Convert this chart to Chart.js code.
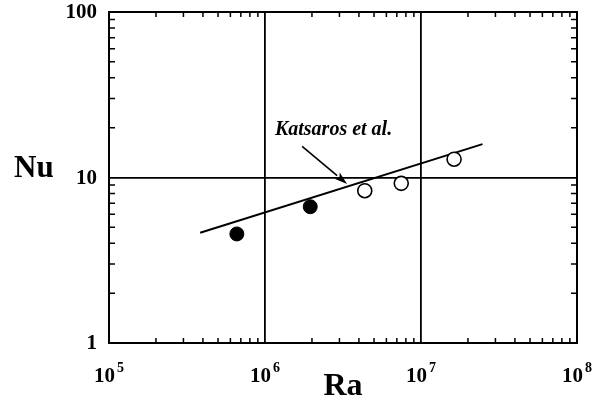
<!DOCTYPE html>
<html><head><meta charset="utf-8">
<script src="https://cdn.jsdelivr.net/npm/chart.js@4.4.1/dist/chart.umd.min.js"></script>
<style>html,body{margin:0;padding:0;background:#fff;}#wrap{width:606px;height:405px;}</style>
</head><body><div id="wrap"><canvas id="c" width="606" height="405"></canvas></div>
<script>
const filledRa = [6.6e5, 1.95e6];
const filledNu = [4.56, 6.66];
const openRa = [4.36e6, 7.47e6, 1.63e7];
const openNu = [8.32, 9.22, 12.9];
const fitRa = [3.84e5, 2.48e7];
const fitNu = [4.64, 15.9];
const arrowRa = [1.73e6, 3.36e6];
const arrowNu = [15.4, 9.14];
const labelText = 'Katsaros et al.';
const labelRa = 2.75e6;
const labelNu = 19.4;
const xDecades = [5, 6, 7, 8];
const yTicks = [1, 10, 100];
const xTitle = 'Ra';
const yTitle = 'Nu';

const SERIF = "'Liberation Serif','Times New Roman',serif";

const pts = (xs, ys) => xs.map((x, i) => ({x: x, y: ys[i]}));

const decorations = {
  id: 'decorations',
  afterDatasetsDraw(chart) {
    const ctx = chart.ctx, a = chart.chartArea;
    const xs = chart.scales.x, ys = chart.scales.y;
    ctx.save();
    // minor ticks
    ctx.strokeStyle = '#000'; ctx.lineWidth = 1.5;
    ctx.beginPath();
    for (let d = 5; d < 8; d++) for (let m = 2; m <= 9; m++) {
      const px = xs.getPixelForValue(m * Math.pow(10, d));
      ctx.moveTo(px, a.bottom); ctx.lineTo(px, a.bottom - 5);
      ctx.moveTo(px, a.top); ctx.lineTo(px, a.top + 5);
    }
    for (let d = 0; d < 2; d++) for (let m = 2; m <= 9; m++) {
      const py = ys.getPixelForValue(m * Math.pow(10, d));
      ctx.moveTo(a.left, py); ctx.lineTo(a.left + 6, py);
      ctx.moveTo(a.right, py); ctx.lineTo(a.right - 6, py);
    }
    ctx.stroke();
    // frame
    ctx.lineWidth = 2;
    ctx.strokeRect(a.left, a.top, a.right - a.left, a.bottom - a.top);
    // arrow
    const x1 = xs.getPixelForValue(arrowRa[0]), y1 = ys.getPixelForValue(arrowNu[0]);
    const x2 = xs.getPixelForValue(arrowRa[1]), y2 = ys.getPixelForValue(arrowNu[1]);
    const ang = Math.atan2(y2 - y1, x2 - x1);
    const hl = 13, hw = 4;
    const bx = x2 - hl * Math.cos(ang), by = y2 - hl * Math.sin(ang);
    ctx.lineWidth = 1.6;
    ctx.beginPath(); ctx.moveTo(x1, y1); ctx.lineTo(bx, by); ctx.stroke();
    ctx.fillStyle = '#000';
    ctx.beginPath();
    ctx.moveTo(x2, y2);
    ctx.lineTo(bx + hw * Math.sin(ang), by - hw * Math.cos(ang));
    ctx.lineTo(bx + 3 * Math.cos(ang), by + 3 * Math.sin(ang));
    ctx.lineTo(bx - hw * Math.sin(ang), by + hw * Math.cos(ang));
    ctx.closePath(); ctx.fill();
    // annotation text
    ctx.font = 'italic bold 20px ' + SERIF;
    ctx.textAlign = 'center'; ctx.textBaseline = 'middle';
    ctx.fillText(labelText, xs.getPixelForValue(labelRa), ys.getPixelForValue(labelNu));
    // y tick labels
    ctx.font = 'bold 21px ' + SERIF;
    ctx.textAlign = 'right'; ctx.textBaseline = 'middle';
    yTicks.forEach(v => ctx.fillText(String(v), 97, ys.getPixelForValue(v) + 1));
    // x tick labels with superscripts
    ctx.textBaseline = 'alphabetic'; ctx.textAlign = 'left';
    xDecades.forEach(e => {
      const px = xs.getPixelForValue(Math.pow(10, e));
      ctx.font = 'bold 21px ' + SERIF;
      const w1 = ctx.measureText('10').width;
      ctx.font = 'bold 14px ' + SERIF;
      const w2 = ctx.measureText(String(e)).width;
      const start = px - (w1 + 2 + w2) / 2;
      ctx.font = 'bold 21px ' + SERIF;
      ctx.fillText('10', start, 382);
      ctx.font = 'bold 14px ' + SERIF;
      ctx.fillText(String(e), start + w1 + 2, 372);
    });
    // axis titles
    ctx.font = 'bold 32px ' + SERIF;
    ctx.textAlign = 'center';
    ctx.fillText(xTitle, (a.left + a.right) / 2, 395);
    ctx.font = 'bold 31px ' + SERIF;
    ctx.textAlign = 'left';
    ctx.fillText(yTitle, 14, 177);
    ctx.restore();
  }
};

new Chart(document.getElementById('c'), {
  type: 'scatter',
  data: {
    datasets: [
      {type: 'line', data: pts(fitRa, fitNu), borderColor: '#000', borderWidth: 2, pointRadius: 0, fill: false, order: 3},
      {data: pts(filledRa, filledNu), pointRadius: 7, backgroundColor: '#000', borderColor: '#000', borderWidth: 1, order: 1},
      {data: pts(openRa, openNu), pointRadius: 7, backgroundColor: '#fff', borderColor: '#000', borderWidth: 1.6, order: 1}
    ]
  },
  plugins: [decorations],
  options: {
    responsive: false,
    animation: false,
    events: [],
    layout: {padding: {left: 0, right: 29, top: 12, bottom: 0}},
    plugins: {legend: {display: false}, tooltip: {enabled: false}},
    scales: {
      x: {
        type: 'logarithmic', min: 1e5, max: 1e8,
        afterBuildTicks: s => { s.ticks = xDecades.map(e => ({value: Math.pow(10, e)})); },
        afterFit: s => { s.height = 62; },
        grid: {color: '#000', lineWidth: 1.8, drawTicks: false},
        border: {display: false},
        ticks: {display: false}
      },
      y: {
        type: 'logarithmic', min: 1, max: 100,
        afterBuildTicks: s => { s.ticks = yTicks.map(v => ({value: v})); },
        afterFit: s => { s.width = 109; },
        grid: {color: '#000', lineWidth: 1.8, drawTicks: false},
        border: {display: false},
        ticks: {display: false}
      }
    }
  }
});
</script></body></html>
